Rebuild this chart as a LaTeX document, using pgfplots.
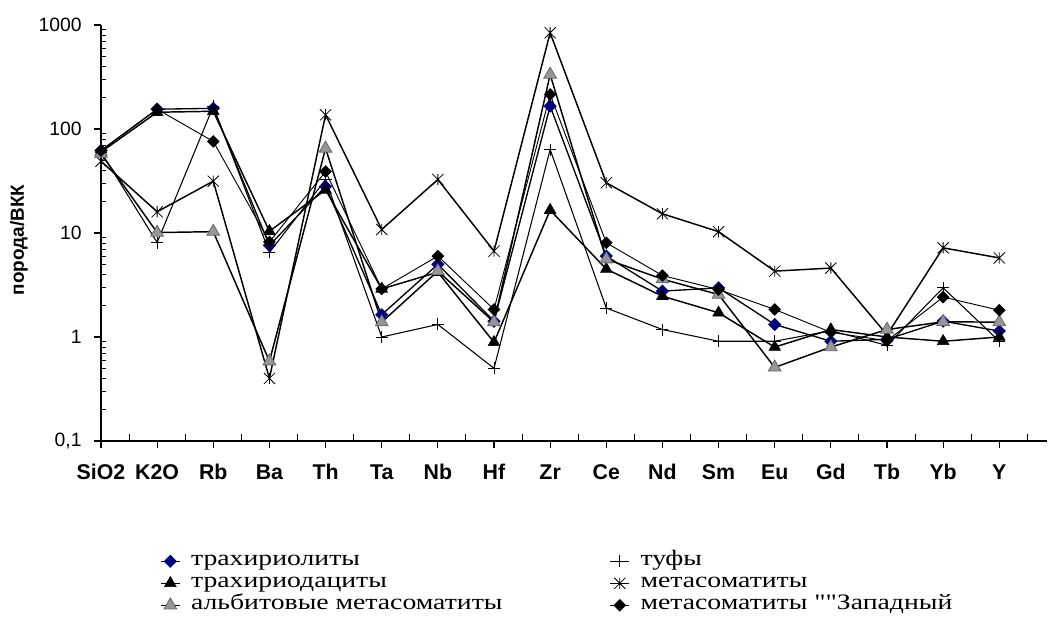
\documentclass[border=0pt]{standalone}
\usepackage{fontspec}
\setmainfont{Liberation Sans}
\newfontfamily\legfont[FakeStretch=1.26]{Liberation Serif}
\usepackage{pgfplots}
\usepackage{pgfplotstable}
\pgfplotsset{compat=1.18}
\definecolor{navyblue}{RGB}{0,0,128}
\definecolor{grayfill}{RGB}{150,150,150}
\pgfdeclareplotmark{xstar}{%
 \pgfpathmoveto{\pgfqpoint{0pt}{\pgfplotmarksize}}%
 \pgfpathlineto{\pgfqpoint{0pt}{-\pgfplotmarksize}}%
 \pgfpathmoveto{\pgfqpoint{-\pgfplotmarksize}{-\pgfplotmarksize}}%
 \pgfpathlineto{\pgfqpoint{\pgfplotmarksize}{\pgfplotmarksize}}%
 \pgfpathmoveto{\pgfqpoint{-\pgfplotmarksize}{\pgfplotmarksize}}%
 \pgfpathlineto{\pgfqpoint{\pgfplotmarksize}{-\pgfplotmarksize}}%
 \pgfusepathqstroke}
\pgfplotstableread{
x tr tuf trd meta alb zap
0 62 60 60 49 58 62
1 155 8.1 145 16 10.1 155
2 158 165 148 31.5 10.3 76
3 7.6 6.5 10.4 0.4 0.585 8.2
4 28 32.6 26 137 65 39
5 1.64 1.0 2.9 10.8 1.39 2.9
6 5.0 1.32 4.2 32.7 4.3 6.0
7 1.42 0.5 0.89 6.7 1.39 1.84
8 166 63.5 16.6 841 334 215
9 6.0 1.9 4.5 30.4 5.6 8.05
10 2.76 1.18 2.47 15.3 3.6 3.9
11 2.97 0.91 1.71 10.3 2.56 2.86
12 1.32 0.91 0.8 4.3 0.51 1.84
13 0.91 1.15 1.18 4.6 0.8 1.11
14 0.95 0.83 1.0 1.05 1.18 0.92
15 1.42 2.97 0.91 7.2 1.4 2.42
16 1.14 0.91 1.0 5.76 1.39 1.81
}\data
\begin{document}
\begin{tikzpicture}
\useasboundingbox (-75.75pt,-132pt) rectangle (710.25pt,330.75pt);
\begin{axis}[
 scale only axis, width=709.5pt, height=312pt,
 ymode=log, xmin=0, xmax=16.85, ymin=0.1, ymax=1000,
 axis x line*=bottom, axis y line*=left,
 axis line style={line width=0.9pt},
 clip=false,
 xtick={0,...,16},
 xticklabels={SiO2,K2O,Rb,Ba,Th,Ta,Nb,Hf,Zr,Ce,Nd,Sm,Eu,Gd,Tb,Yb,Y},
 extra x ticks={0.5,1.5,...,16.5}, extra x tick labels={},
 extra x tick style={tick align=inside},
 ytick={0.1,1,10,100,1000}, yticklabels={{0,1},1,10,100,1000},
 minor ytick={0.2,0.3,0.4,0.5,0.6,0.7,0.8,0.9,2,3,4,5,6,7,8,9,20,30,40,50,60,70,80,90,200,300,400,500,600,700,800,900},
 tick align=outside, major tick length=5pt, minor tick length=4pt,
 tick style={black, line width=0.8pt},
 minor tick style={xshift=4pt},
 yticklabel style={font=\fontsize{14.5}{17}\selectfont, xshift=-6pt},
 xticklabel style={font=\bfseries\fontsize{16}{18}\selectfont, yshift=-9pt},
 ylabel={порода/ВКК},
 ylabel style={font=\bfseries\fontsize{14.2}{17}\selectfont, at={(axis description cs:-0.0867,0.483)}, anchor=center},
 legend columns=2,
 legend cell align=left,
 legend style={draw=none, fill=none, at={(0.0624,-0.262)}, anchor=north west,
   font=\legfont\fontsize{16.5}{18}\selectfont, inner sep=0pt, row sep=0pt, column sep=0pt,
   nodes={inner sep=0pt, text height=11.5pt, text depth=5pt},
   /tikz/every odd column/.append style={column sep=8pt}},
 legend image code/.code={\draw[mark repeat=2,mark phase=2] plot coordinates {(0pt,0pt)(7pt,0pt)(14pt,0pt)};},
]
\addplot[black, line width=1pt, mark=square*, mark size=3pt, mark options={rotate=45, fill=navyblue, draw=navyblue, solid}] table[x=x,y=tr]{\data};
\addlegendentry{\makebox[314pt][l]{трахириолиты}}
\addplot[black, line width=0.8pt, mark=+, mark size=4.5pt, mark options={line width=0.7pt}] table[x=x,y=tuf]{\data};
\addlegendentry{туфы}
\addplot[black, line width=1.1pt, mark=triangle*, mark size=5pt, mark options={fill=black, line width=0.5pt}] table[x=x,y=trd]{\data};
\addlegendentry{\makebox[314pt][l]{трахириодациты}}
\addplot[black, line width=1.1pt, mark=xstar, mark size=4.2pt, mark options={line width=0.6pt}] table[x=x,y=meta]{\data};
\addlegendentry{метасоматиты}
\addplot[black, line width=1.1pt, mark=triangle*, mark size=5.5pt, mark options={fill=grayfill, draw=black!60, line width=0.6pt}] table[x=x,y=alb]{\data};
\addlegendentry{\makebox[314pt][l]{альбитовые метасоматиты}}
\addplot[black, line width=0.7pt, mark=square*, mark size=3pt, mark options={rotate=45, fill=black}] table[x=x,y=zap]{\data};
\addlegendentry{метасоматиты ""Западный}
\end{axis}
\end{tikzpicture}
\end{document}
